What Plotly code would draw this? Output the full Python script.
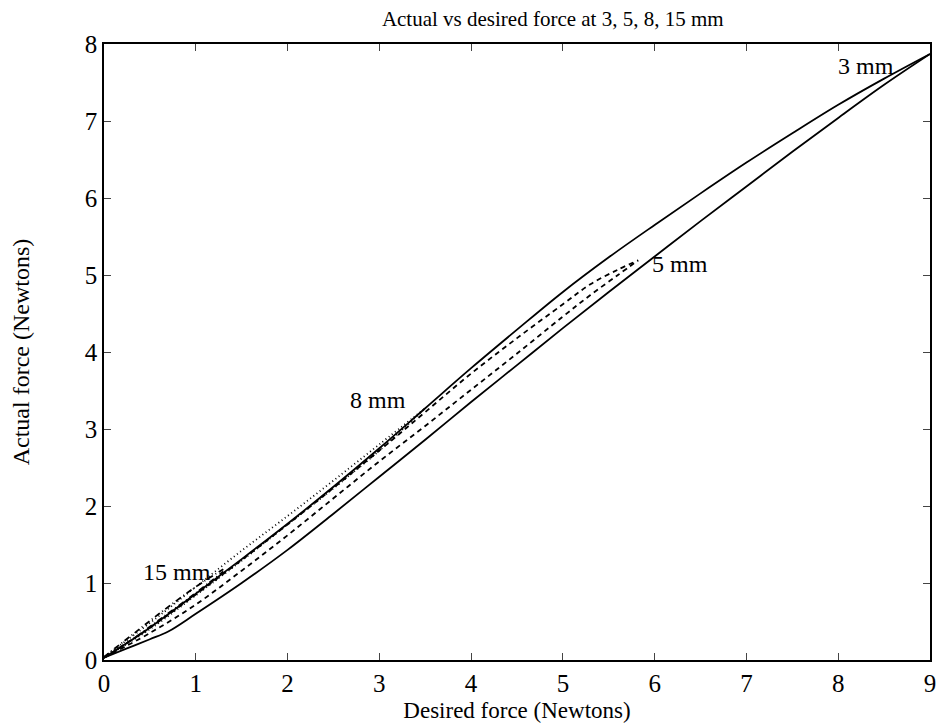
import plotly.graph_objects as go

# 3 mm loop (solid)
x3_up = [0, 0.25, 0.5, 1, 1.5, 2, 2.5, 3, 3.5, 4, 4.5, 5, 5.5, 6, 6.5, 7, 7.5, 8, 8.5, 9]
y3_up = [0.03, 0.22, 0.42, 0.86, 1.31, 1.77, 2.25, 2.75, 3.27, 3.79, 4.29, 4.78, 5.23, 5.65, 6.06, 6.46, 6.84, 7.21, 7.55, 7.87]
x3_dn = [0, 0.25, 0.5, 0.7, 1, 1.5, 2, 2.5, 3, 3.5, 4, 4.5, 5, 5.5, 6, 6.5, 7, 7.5, 8, 8.5, 9]
y3_dn = [0.03, 0.15, 0.27, 0.37, 0.6, 1.0, 1.43, 1.9, 2.38, 2.86, 3.35, 3.83, 4.31, 4.78, 5.24, 5.70, 6.15, 6.60, 7.04, 7.47, 7.87]

# 5 mm loop (dashed)
x5_up = [0, 0.5, 1, 2, 3, 3.5, 4, 4.5, 5, 5.3, 5.6, 5.82]
y5_up = [0.03, 0.42, 0.85, 1.76, 2.72, 3.22, 3.72, 4.18, 4.62, 4.88, 5.07, 5.19]
x5_dn = [0, 0.5, 1, 1.5, 2, 2.5, 3, 3.5, 4, 4.5, 5, 5.3, 5.6, 5.82]
y5_dn = [0.03, 0.35, 0.72, 1.16, 1.62, 2.1, 2.58, 3.04, 3.51, 3.98, 4.46, 4.74, 5.0, 5.19]

# 8 mm loop (dotted)
x8_up = [0, 0.5, 1, 1.5, 2, 2.5, 3, 3.5]
y8_up = [0.04, 0.48, 0.95, 1.42, 1.87, 2.33, 2.80, 3.27]
x8_dn = [0, 0.5, 1, 1.5, 2, 2.5, 3, 3.5]
y8_dn = [0.03, 0.40, 0.84, 1.29, 1.76, 2.23, 2.72, 3.27]

# 15 mm loop (dash-dot)
x15_up = [0, 0.3, 0.6, 1.0, 1.3]
y15_up = [0.04, 0.32, 0.60, 0.95, 1.18]
x15_dn = [0, 0.3, 0.6, 1.0, 1.3]
y15_dn = [0.03, 0.26, 0.52, 0.87, 1.15]

labels = ["3 mm", "5 mm", "8 mm", "15 mm"]
label_x = [8.3, 6.28, 2.98, 0.80]
label_y = [7.72, 5.14, 3.38, 1.14]

xticks = [0, 1, 2, 3, 4, 5, 6, 7, 8, 9]
yticks = [0, 1, 2, 3, 4, 5, 6, 7, 8]

fig = go.Figure()
series = [
    (x3_up, y3_up, "solid"), (x3_dn, y3_dn, "solid"),
    (x5_up, y5_up, "5px,4px"), (x5_dn, y5_dn, "5px,4px"),
    (x8_up, y8_up, "1px,3px"), (x8_dn, y8_dn, "1px,3px"),
    (x15_up, y15_up, "6px,3px,1px,3px"), (x15_dn, y15_dn, "6px,3px,1px,3px"),
]
for xs, ys, dash in series:
    fig.add_trace(go.Scatter(x=xs, y=ys, mode="lines", line_shape="spline",
                             line=dict(color="black", width=1.8, dash=dash),
                             showlegend=False, hoverinfo="skip"))

for t, lx, ly in zip(labels, label_x, label_y):
    fig.add_annotation(x=lx, y=ly, text=t, showarrow=False,
                       font=dict(family="Liberation Serif", size=24, color="black"))

font = dict(family="Liberation Serif", color="black")
# page body adds an 8px margin, so the figure is sized to fit the remaining window
fig.update_layout(
    width=936, height=719,
    margin=dict(l=96, r=8, t=36, b=61),
    paper_bgcolor="white", plot_bgcolor="white",
    font=font,
    title=dict(text="Actual vs desired force at 3, 5, 8, 15 mm", x=0.582, xanchor="center",
               y=1 - 3 / 719, yanchor="top", yref="container", pad=dict(t=0),
               font=dict(family="Liberation Serif", size=21, color="black")),
    xaxis=dict(range=[0, 9], tickvals=xticks, ticks="inside", ticklen=7, mirror="ticks",
               showline=True, linecolor="black", linewidth=1.5, showgrid=False, zeroline=False,
               tickfont=dict(family="Liberation Serif", size=25, color="black"),
               title=dict(text="Desired force (Newtons)", standoff=6,
                          font=dict(family="Liberation Serif", size=23, color="black"))),
    yaxis=dict(range=[0, 8], tickvals=yticks, ticks="inside", ticklen=7, mirror="ticks",
               showline=True, linecolor="black", linewidth=1.5, showgrid=False, zeroline=False,
               tickfont=dict(family="Liberation Serif", size=25, color="black"),
               title=dict(text="Actual force (Newtons)", standoff=50,
                          font=dict(family="Liberation Serif", size=24, color="black"))),
)
fig.write_html("out.html")
